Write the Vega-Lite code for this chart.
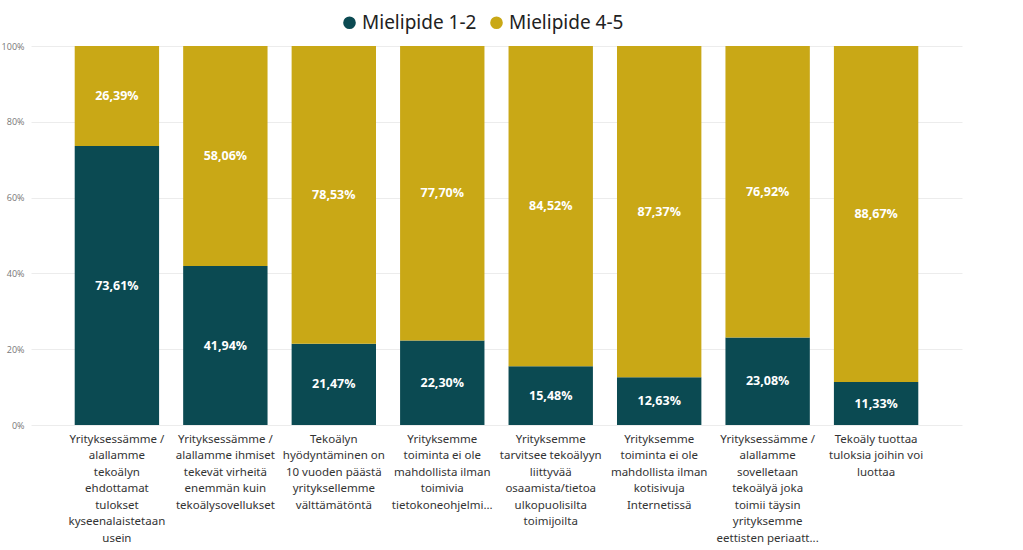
{
  "$schema": "https://vega.github.io/schema/vega-lite/v6.json",
  "width": 931,
  "height": 379,
  "autosize": {"type": "none"},
  "padding": {"left": 31, "top": 46, "right": 61, "bottom": 125},
  "config": {
    "locale": {"number": {"decimal": ",", "thousands": " ", "grouping": [3], "currency": ["", " €"]}},
    "view": {"stroke": null},
    "font": "Open Sans"
  },
  "data": {
    "values": [
      {"kysymys": "Yrityksessämme /|alallamme|tekoälyn|ehdottamat|tulokset|kyseenalaistetaan|usein", "sarja": "Mielipide 1-2", "osuus": 0.7361},
      {"kysymys": "Yrityksessämme /|alallamme|tekoälyn|ehdottamat|tulokset|kyseenalaistetaan|usein", "sarja": "Mielipide 4-5", "osuus": 0.2639},
      {"kysymys": "Yrityksessämme /|alallamme ihmiset|tekevät virheitä|enemmän kuin|tekoälysovellukset", "sarja": "Mielipide 1-2", "osuus": 0.4194},
      {"kysymys": "Yrityksessämme /|alallamme ihmiset|tekevät virheitä|enemmän kuin|tekoälysovellukset", "sarja": "Mielipide 4-5", "osuus": 0.5806},
      {"kysymys": "Tekoälyn|hyödyntäminen on|10 vuoden päästä|yrityksellemme|välttämätöntä", "sarja": "Mielipide 1-2", "osuus": 0.2147},
      {"kysymys": "Tekoälyn|hyödyntäminen on|10 vuoden päästä|yrityksellemme|välttämätöntä", "sarja": "Mielipide 4-5", "osuus": 0.7853},
      {"kysymys": "Yrityksemme|toiminta ei ole|mahdollista ilman|toimivia|tietokoneohjelmi...", "sarja": "Mielipide 1-2", "osuus": 0.2230},
      {"kysymys": "Yrityksemme|toiminta ei ole|mahdollista ilman|toimivia|tietokoneohjelmi...", "sarja": "Mielipide 4-5", "osuus": 0.7770},
      {"kysymys": "Yrityksemme|tarvitsee tekoälyyn|liittyvää|osaamista/tietoa|ulkopuolisilta|toimijoilta", "sarja": "Mielipide 1-2", "osuus": 0.1548},
      {"kysymys": "Yrityksemme|tarvitsee tekoälyyn|liittyvää|osaamista/tietoa|ulkopuolisilta|toimijoilta", "sarja": "Mielipide 4-5", "osuus": 0.8452},
      {"kysymys": "Yrityksemme|toiminta ei ole|mahdollista ilman|kotisivuja|Internetissä", "sarja": "Mielipide 1-2", "osuus": 0.1263},
      {"kysymys": "Yrityksemme|toiminta ei ole|mahdollista ilman|kotisivuja|Internetissä", "sarja": "Mielipide 4-5", "osuus": 0.8737},
      {"kysymys": "Yrityksessämme /|alallamme|sovelletaan|tekoälyä joka|toimii täysin|yrityksemme|eettisten periaatt...", "sarja": "Mielipide 1-2", "osuus": 0.2308},
      {"kysymys": "Yrityksessämme /|alallamme|sovelletaan|tekoälyä joka|toimii täysin|yrityksemme|eettisten periaatt...", "sarja": "Mielipide 4-5", "osuus": 0.7692},
      {"kysymys": "Tekoäly tuottaa|tuloksia joihin voi|luottaa", "sarja": "Mielipide 1-2", "osuus": 0.1133},
      {"kysymys": "Tekoäly tuottaa|tuloksia joihin voi|luottaa", "sarja": "Mielipide 4-5", "osuus": 0.8867}
    ]
  },
  "transform": [
    {"stack": "osuus", "groupby": ["kysymys"], "sort": [{"field": "sarja", "order": "ascending"}], "offset": "normalize", "as": ["y0", "y1"]},
    {"calculate": "(datum.y0 + datum.y1) / 2", "as": "ymid"}
  ],
  "encoding": {
    "x": {
      "field": "kysymys",
      "type": "nominal",
      "sort": null,
      "scale": {"paddingInner": 0.222, "paddingOuter": 0.403, "round": false},
      "axis": {
        "title": null,
        "labelAngle": 0,
        "labelExpr": "split(datum.label, '|')",
        "labelFontSize": 11.5,
        "labelFont": "Noto Sans",
        "labelColor": "#333333",
        "labelLineHeight": 16.5,
        "labelPadding": 8,
        "labelLimit": 0,
        "domain": false,
        "ticks": false,
        "labelBaseline": "top"
      }
    }
  },
  "layer": [
    {
      "mark": {"type": "bar"},
      "encoding": {
        "y": {
          "field": "y0",
          "type": "quantitative",
          "scale": {"domain": [0, 1]},
          "axis": {
            "title": null,
            "format": ".0%",
            "values": [0, 0.2, 0.4, 0.6, 0.8, 1],
            "labelFontSize": 9,
            "labelColor": "#777777",
            "labelPadding": 7,
            "domain": false,
            "ticks": false,
            "gridColor": "#ececec",
            "gridWidth": 1
          }
        },
        "y2": {"field": "y1"},
        "color": {
          "field": "sarja",
          "type": "nominal",
          "scale": {"domain": ["Mielipide 1-2", "Mielipide 4-5"], "range": ["#0B4A52", "#C9A816"]},
          "legend": {
            "title": null,
            "orient": "none",
            "direction": "horizontal",
            "legendX": 309,
            "legendY": -33,
            "symbolType": "circle",
            "symbolSize": 160,
            "symbolStrokeWidth": 0,
            "labelFontSize": 19,
            "labelColor": "#222222",
            "labelOffset": 3,
            "columnPadding": 10,
            "labelFont": "Noto Sans"
          }
        }
      }
    },
    {
      "mark": {"type": "text", "color": "white", "fontWeight": "bold", "fontSize": 12.5, "baseline": "middle", "align": "center"},
      "encoding": {
        "y": {"field": "ymid", "type": "quantitative"},
        "text": {"field": "osuus", "type": "quantitative", "format": ".2%"}
      }
    }
  ]
}
